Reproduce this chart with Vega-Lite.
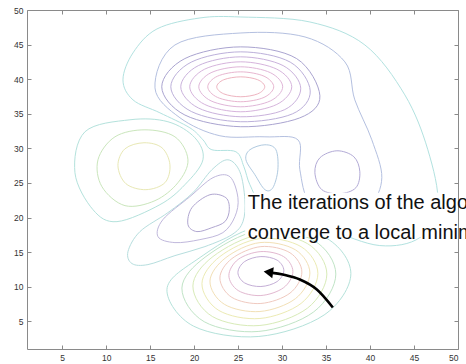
{
  "$schema": "https://vega.github.io/schema/vega-lite/v6.json",
  "width": 431,
  "height": 339,
  "autosize": {"type": "none"},
  "padding": {"left": 27, "top": 10, "right": 8, "bottom": 15},
  "background": "white",
  "config": {
    "view": {"stroke": null},
    "axis": {"grid": false, "title": null, "domainColor": "#8a8a8a", "tickColor": "#8a8a8a", "labelColor": "#333333", "labelFont": "Liberation Sans", "labelFontSize": 8.5, "tickSize": -4, "labelPadding": 8, "values": [5, 10, 15, 20, 25, 30, 35, 40, 45, 50]}
  },
  "datasets": {
    "contours": [
      {"c":"T1","i":0,"x":28.03,"y":38.9},{"c":"T1","i":1,"x":27.23,"y":39.92},{"c":"T1","i":2,"x":25.3,"y":40.34},{"c":"T1","i":3,"x":23.37,"y":39.92},{"c":"T1","i":4,"x":22.57,"y":38.9},{"c":"T1","i":5,"x":23.37,"y":37.88},{"c":"T1","i":6,"x":25.3,"y":37.46},{"c":"T1","i":7,"x":27.23,"y":37.88},
      {"c":"T2","i":0,"x":29.05,"y":38.9},{"c":"T2","i":1,"x":27.95,"y":40.43},{"c":"T2","i":2,"x":25.3,"y":41.06},{"c":"T2","i":3,"x":22.65,"y":40.43},{"c":"T2","i":4,"x":21.55,"y":38.9},{"c":"T2","i":5,"x":22.65,"y":37.37},{"c":"T2","i":6,"x":25.3,"y":36.74},{"c":"T2","i":7,"x":27.95,"y":37.37},
      {"c":"T3","i":0,"x":30.07,"y":38.9},{"c":"T3","i":1,"x":28.67,"y":40.94},{"c":"T3","i":2,"x":25.3,"y":41.79},{"c":"T3","i":3,"x":21.93,"y":40.94},{"c":"T3","i":4,"x":20.53,"y":38.9},{"c":"T3","i":5,"x":21.93,"y":36.86},{"c":"T3","i":6,"x":25.3,"y":36.01},{"c":"T3","i":7,"x":28.67,"y":36.86},
      {"c":"T4","i":0,"x":31.1,"y":38.9},{"c":"T4","i":1,"x":29.4,"y":41.45},{"c":"T4","i":2,"x":25.3,"y":42.51},{"c":"T4","i":3,"x":21.2,"y":41.45},{"c":"T4","i":4,"x":19.5,"y":38.9},{"c":"T4","i":5,"x":21.2,"y":36.35},{"c":"T4","i":6,"x":25.3,"y":35.29},{"c":"T4","i":7,"x":29.4,"y":36.35},
      {"c":"T5","i":0,"x":32.12,"y":38.7},{"c":"T5","i":1,"x":30.12,"y":41.96},{"c":"T5","i":2,"x":25.3,"y":43.23},{"c":"T5","i":3,"x":20.48,"y":41.96},{"c":"T5","i":4,"x":18.48,"y":38.9},{"c":"T5","i":5,"x":20.48,"y":35.84},{"c":"T5","i":6,"x":25.3,"y":34.57},{"c":"T5","i":7,"x":30.3,"y":35.6},
      {"c":"T6","i":0,"x":33.2,"y":38.3},{"c":"T6","i":1,"x":30.92,"y":42.47},{"c":"T6","i":2,"x":25.3,"y":43.95},{"c":"T6","i":3,"x":19.68,"y":42.47},{"c":"T6","i":4,"x":17.35,"y":38.9},{"c":"T6","i":5,"x":19.68,"y":35.33},{"c":"T6","i":6,"x":25.3,"y":33.85},{"c":"T6","i":7,"x":31.2,"y":35.0},
      {"c":"T7","i":0,"x":34.3,"y":37.6},{"c":"T7","i":1,"x":31.65,"y":42.98},{"c":"T7","i":2,"x":25.3,"y":44.67},{"c":"T7","i":3,"x":18.95,"y":42.98},{"c":"T7","i":4,"x":16.32,"y":38.9},{"c":"T7","i":5,"x":18.95,"y":34.82},{"c":"T7","i":6,"x":25.3,"y":33.13},{"c":"T7","i":7,"x":32.0,"y":34.4},
      {"c":"B","i":0,"x":25.32,"y":46.68},{"c":"B","i":1,"x":32.61,"y":46.1},{"c":"B","i":2,"x":37.14,"y":42.5},{"c":"B","i":3,"x":38.27,"y":37.01},{"c":"B","i":4,"x":40.2,"y":31.24},{"c":"B","i":5,"x":41.34,"y":25.76},{"c":"B","i":6,"x":39.98,"y":21.86},{"c":"B","i":7,"x":36.57,"y":20.85},{"c":"B","i":8,"x":33.16,"y":22.15},{"c":"B","i":9,"x":32.02,"y":26.91},{"c":"B","i":10,"x":31.8,"y":31.24},{"c":"B","i":11,"x":28.05,"y":31.67},{"c":"B","i":12,"x":22.93,"y":31.82},{"c":"B","i":13,"x":18.39,"y":34.42},{"c":"B","i":14,"x":15.55,"y":38.74},{"c":"B","i":15,"x":17.82,"y":44.95},
      {"c":"O1","i":0,"x":25.32,"y":48.99},{"c":"O1","i":1,"x":33.16,"y":48.27},{"c":"O1","i":2,"x":39.41,"y":44.95},{"c":"O1","i":3,"x":43.95,"y":37.74},{"c":"O1","i":4,"x":46.57,"y":29.8},{"c":"O1","i":5,"x":47.7,"y":21.86},{"c":"O1","i":6,"x":45.66,"y":17.1},{"c":"O1","i":7,"x":41.11,"y":15.95},{"c":"O1","i":8,"x":35.43,"y":18.25},{"c":"O1","i":9,"x":30.89,"y":20.56},{"c":"O1","i":10,"x":27.7,"y":22.01},{"c":"O1","i":11,"x":26.34,"y":24.75},{"c":"O1","i":12,"x":25.66,"y":27.34},{"c":"O1","i":13,"x":24.75,"y":29.51},{"c":"O1","i":14,"x":22.02,"y":29.8},{"c":"O1","i":15,"x":21.0,"y":31.24},{"c":"O1","i":16,"x":19.52,"y":32.97},{"c":"O1","i":17,"x":16.11,"y":35.14},{"c":"O1","i":18,"x":13.05,"y":37.01},{"c":"O1","i":19,"x":11.91,"y":39.9},{"c":"O1","i":20,"x":13.05,"y":43.8},{"c":"O1","i":21,"x":15.77,"y":47.26},{"c":"O1","i":22,"x":20.66,"y":48.85},
      {"c":"CS","i":0,"x":26.34,"y":29.8},{"c":"CS","i":1,"x":28.05,"y":30.52},{"c":"CS","i":2,"x":29.3,"y":29.8},{"c":"CS","i":3,"x":29.52,"y":26.91},{"c":"CS","i":4,"x":28.95,"y":24.31},{"c":"CS","i":5,"x":28.05,"y":24.03},{"c":"CS","i":6,"x":26.91,"y":26.19},{"c":"CS","i":7,"x":25.89,"y":28.35},
      {"c":"RB","i":0,"x":36.23,"y":29.65},{"c":"RB","i":1,"x":38.16,"y":28.79},{"c":"RB","i":2,"x":38.84,"y":26.62},{"c":"RB","i":3,"x":38.39,"y":24.31},{"c":"RB","i":4,"x":36.57,"y":23.45},{"c":"RB","i":5,"x":34.52,"y":24.03},{"c":"RB","i":6,"x":33.73,"y":26.48},{"c":"RB","i":7,"x":34.3,"y":28.64},
      {"c":"L1","i":0,"x":14.3,"y":30.81},{"c":"L1","i":1,"x":16.34,"y":30.09},{"c":"L1","i":2,"x":17.25,"y":27.63},{"c":"L1","i":3,"x":16.68,"y":25.04},{"c":"L1","i":4,"x":14.52,"y":24.03},{"c":"L1","i":5,"x":12.25,"y":24.89},{"c":"L1","i":6,"x":11.34,"y":27.49},{"c":"L1","i":7,"x":12.14,"y":29.94},
      {"c":"L2","i":0,"x":14.41,"y":32.68},{"c":"L2","i":1,"x":17.82,"y":31.67},{"c":"L2","i":2,"x":19.3,"y":28.35},{"c":"L2","i":3,"x":18.16,"y":25.04},{"c":"L2","i":4,"x":15.55,"y":22.44},{"c":"L2","i":5,"x":12.14,"y":21.72},{"c":"L2","i":6,"x":9.52,"y":24.46},{"c":"L2","i":7,"x":9.07,"y":28.35},{"c":"L2","i":8,"x":11.0,"y":31.67},
      {"c":"L3","i":0,"x":12.7,"y":34.13},{"c":"L3","i":1,"x":17.02,"y":33.85},{"c":"L3","i":2,"x":20.09,"y":31.53},{"c":"L3","i":3,"x":21.0,"y":28.35},{"c":"L3","i":4,"x":18.95,"y":24.75},{"c":"L3","i":5,"x":16.11,"y":21.86},{"c":"L3","i":6,"x":11.23,"y":19.41},{"c":"L3","i":7,"x":8.5,"y":21.14},{"c":"L3","i":8,"x":6.45,"y":26.48},{"c":"L3","i":9,"x":7.59,"y":32.4},
      {"c":"TL","i":0,"x":12.48,"y":15.08},{"c":"TL","i":1,"x":13.84,"y":17.97},{"c":"TL","i":2,"x":17.02,"y":20.71},{"c":"TL","i":3,"x":19.86,"y":23.59},{"c":"TL","i":4,"x":22.02,"y":26.91},{"c":"TL","i":5,"x":23.84,"y":28.35},{"c":"TL","i":6,"x":25.2,"y":26.62},{"c":"TL","i":7,"x":25.77,"y":22.58},{"c":"TL","i":8,"x":25.55,"y":19.41},{"c":"TL","i":9,"x":24.3,"y":17.53},{"c":"TL","i":10,"x":21.23,"y":15.8},{"c":"TL","i":11,"x":17.82,"y":14.5},{"c":"TL","i":12,"x":14.75,"y":13.2},{"c":"TL","i":13,"x":12.93,"y":13.35},
      {"c":"CL2","i":0,"x":22.14,"y":25.76},{"c":"CL2","i":1,"x":24.07,"y":25.9},{"c":"CL2","i":2,"x":24.98,"y":22.87},{"c":"CL2","i":3,"x":24.64,"y":20.13},{"c":"CL2","i":4,"x":23.27,"y":17.82},{"c":"CL2","i":5,"x":20.66,"y":16.81},{"c":"CL2","i":6,"x":17.82,"y":16.38},{"c":"CL2","i":7,"x":15.89,"y":17.24},{"c":"CL2","i":8,"x":16.45,"y":19.7},{"c":"CL2","i":9,"x":19.52,"y":23.02},
      {"c":"CL1","i":0,"x":21.8,"y":23.3},{"c":"CL1","i":1,"x":23.61,"y":22.87},{"c":"CL1","i":2,"x":24.0,"y":21.14},{"c":"CL1","i":3,"x":23.5,"y":19.41},{"c":"CL1","i":4,"x":22.02,"y":18.54},{"c":"CL1","i":5,"x":20.32,"y":17.97},{"c":"CL1","i":6,"x":19.3,"y":18.98},{"c":"CL1","i":7,"x":19.75,"y":21.43},
      {"c":"R1","i":0,"x":30.2,"y":12.34},{"c":"R1","i":1,"x":29.44,"y":13.84},{"c":"R1","i":2,"x":27.59,"y":14.36},{"c":"R1","i":3,"x":25.74,"y":13.64},{"c":"R1","i":4,"x":24.98,"y":12.05},{"c":"R1","i":5,"x":25.74,"y":10.55},{"c":"R1","i":6,"x":27.59,"y":10.03},{"c":"R1","i":7,"x":29.44,"y":10.75},
      {"c":"R2","i":0,"x":31.23,"y":12.19},{"c":"R2","i":1,"x":30.17,"y":14.36},{"c":"R2","i":2,"x":27.59,"y":15.08},{"c":"R2","i":3,"x":25.01,"y":13.95},{"c":"R2","i":4,"x":23.95,"y":11.62},{"c":"R2","i":5,"x":25.01,"y":9.45},{"c":"R2","i":6,"x":27.59,"y":8.73},{"c":"R2","i":7,"x":30.17,"y":9.86},
      {"c":"R3","i":0,"x":32.25,"y":12.12},{"c":"R3","i":1,"x":30.9,"y":14.91},{"c":"R3","i":2,"x":27.59,"y":15.8},{"c":"R3","i":3,"x":24.3,"y":14.07},{"c":"R3","i":4,"x":22.93,"y":11.26},{"c":"R3","i":5,"x":24.28,"y":8.47},{"c":"R3","i":6,"x":27.59,"y":7.58},{"c":"R3","i":7,"x":30.9,"y":9.08},
      {"c":"R4","i":0,"x":33.16,"y":11.98},{"c":"R4","i":1,"x":31.51,"y":15.34},{"c":"R4","i":2,"x":27.48,"y":16.38},{"c":"R4","i":3,"x":23.61,"y":14.21},{"c":"R4","i":4,"x":21.8,"y":10.82},{"c":"R4","i":5,"x":23.44,"y":7.46},{"c":"R4","i":6,"x":27.48,"y":6.42},{"c":"R4","i":7,"x":31.51,"y":8.27},
      {"c":"R5","i":0,"x":34.07,"y":11.9},{"c":"R5","i":1,"x":32.16,"y":15.79},{"c":"R5","i":2,"x":27.48,"y":16.96},{"c":"R5","i":3,"x":22.93,"y":14.36},{"c":"R5","i":4,"x":20.89,"y":10.46},{"c":"R5","i":5,"x":22.8,"y":6.58},{"c":"R5","i":6,"x":27.48,"y":5.41},{"c":"R5","i":7,"x":32.16,"y":7.59},
      {"c":"R6","i":0,"x":35.09,"y":11.83},{"c":"R6","i":1,"x":32.89,"y":16.23},{"c":"R6","i":2,"x":27.48,"y":17.53},{"c":"R6","i":3,"x":22.14,"y":14.36},{"c":"R6","i":4,"x":19.86,"y":10.1},{"c":"R6","i":5,"x":22.07,"y":5.7},{"c":"R6","i":6,"x":27.48,"y":4.4},{"c":"R6","i":7,"x":32.89,"y":6.91},
      {"c":"R7","i":0,"x":36.11,"y":11.83},{"c":"R7","i":1,"x":33.58,"y":16.71},{"c":"R7","i":2,"x":27.36,"y":18.11},{"c":"R7","i":3,"x":21.34,"y":14.36},{"c":"R7","i":4,"x":18.61,"y":9.81},{"c":"R7","i":5,"x":21.15,"y":4.94},{"c":"R7","i":6,"x":27.36,"y":3.54},{"c":"R7","i":7,"x":33.58,"y":6.35},
      {"c":"R8","i":0,"x":37.82,"y":11.9},{"c":"R8","i":1,"x":34.78,"y":17.2},{"c":"R8","i":2,"x":27.36,"y":18.69},{"c":"R8","i":3,"x":20.32,"y":13.92},{"c":"R8","i":4,"x":16.91,"y":9.6},{"c":"R8","i":5,"x":19.94,"y":4.3},{"c":"R8","i":6,"x":27.36,"y":2.81},{"c":"R8","i":7,"x":34.78,"y":5.92}
    ],
    "box": [{"x": 25.8, "x2": 50, "y": 17.2, "y2": 23.6}],
    "note": [
      {"x": 26.11, "y": 21.28, "t": "The iterations of the algorithm will"},
      {"x": 26.11, "y": 16.96, "t": "converge to a local minimum"}
    ],
    "arrow": [
      {"i": 0, "x": 35.77, "y": 7.0},
      {"i": 1, "x": 33.95, "y": 9.6},
      {"i": 2, "x": 32.02, "y": 11.04},
      {"i": 3, "x": 30.09, "y": 11.76},
      {"i": 4, "x": 28.9, "y": 12.0}
    ],
    "head": [{"x": 28.44, "y": 12.12}]
  },
  "resolve": {"axis": {"x": "independent", "y": "independent"}},
  "layer": [
    {
      "data": {"name": "contours"},
      "mark": {"type": "line", "interpolate": "cardinal-closed", "strokeWidth": 1},
      "encoding": {
        "x": {"field": "x", "type": "quantitative", "scale": {"domain": [1, 50], "nice": false, "zero": false}, "axis": {"orient": "bottom"}},
        "y": {"field": "y", "type": "quantitative", "scale": {"domain": [1, 50], "nice": false, "zero": false}, "axis": {"orient": "left"}},
        "detail": {"field": "c"},
        "order": {"field": "i", "type": "quantitative"},
        "color": {"field": "c", "type": "nominal", "legend": null, "scale": {
          "domain": ["T1","T2","T3","T4","T5","T6","T7","B","O1","CS","RB","L1","L2","L3","TL","CL2","CL1","R1","R2","R3","R4","R5","R6","R7","R8"],
          "range": ["#eeb4c0","#e8b6d0","#e0b6d8","#d6b4dc","#cab2dc","#bcb0da","#aaa4d0","#b4c0e0","#b2e2e0","#b0cae0","#b2aad6","#e8e8b4","#cae6bc","#b4e2dc","#b6dede","#c0b8dc","#b0a6d0","#c4aed6","#e2b8d0","#f0cac0","#f2e0b6","#ecebb4","#d8ebb8","#c0e4c6","#b4e2da"]}}
      }
    },
    {
      "data": {"name": "box"},
      "mark": {"type": "rect", "fill": "white", "stroke": null},
      "encoding": {
        "x": {"field": "x", "type": "quantitative", "axis": null},
        "x2": {"field": "x2"},
        "y": {"field": "y", "type": "quantitative", "axis": null},
        "y2": {"field": "y2"}
      }
    },
    {
      "data": {"name": "note"},
      "mark": {"type": "text", "align": "left", "baseline": "alphabetic", "font": "Liberation Sans", "fontSize": 20, "color": "#111111"},
      "encoding": {
        "x": {"field": "x", "type": "quantitative", "axis": null},
        "y": {"field": "y", "type": "quantitative", "axis": null},
        "text": {"field": "t"}
      }
    },
    {
      "data": {"name": "arrow"},
      "mark": {"type": "line", "interpolate": "cardinal", "strokeWidth": 2.6, "color": "#000000"},
      "encoding": {
        "x": {"field": "x", "type": "quantitative", "axis": null},
        "y": {"field": "y", "type": "quantitative", "axis": null},
        "order": {"field": "i", "type": "quantitative"}
      }
    },
    {
      "data": {"name": "head"},
      "mark": {"type": "point", "shape": "triangle-left", "filled": true, "size": 120, "color": "#000000", "opacity": 1, "angle": 8},
      "encoding": {
        "x": {"field": "x", "type": "quantitative", "axis": {"orient": "top", "labels": false}},
        "y": {"field": "y", "type": "quantitative", "axis": {"orient": "right", "labels": false}}
      }
    }
  ]
}
